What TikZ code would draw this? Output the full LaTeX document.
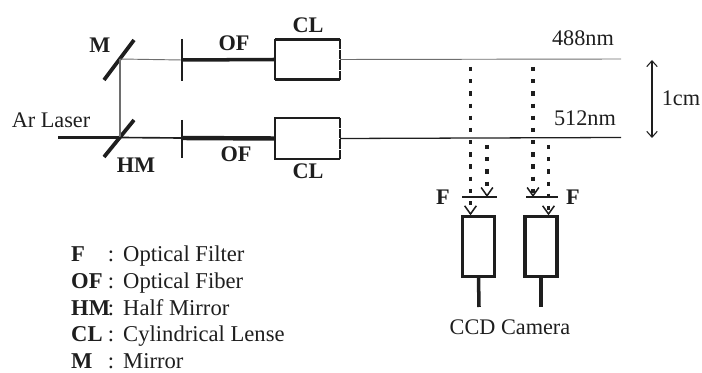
\documentclass[tikz,border=0pt]{standalone}
\usepackage{fontspec}
\setmainfont{Liberation Serif}
\usepackage{xcolor}
\definecolor{ink}{RGB}{30,30,30}
\definecolor{beam_gray}{RGB}{110,110,110}
\usepackage{tikz}
\usetikzlibrary{arrows.meta}
\tikzset{
  label_text/.style={text=ink, font=\fontsize{19}{22}\selectfont, inner sep=0pt},
  key_text/.style={label_text, font=\fontsize{19}{22}\selectfont\bfseries},
  beam/.style={line width=0.8pt, draw=beam_gray},
  strong/.style={line width=3pt, draw=ink},
  medium/.style={line width=2pt, draw=ink},
  dotted_beam/.style={line width=3.2pt, draw=ink, dash pattern=on 3.6pt off 6.8pt,
    -{Straight Barb[line width=1.3pt, length=7pt, width=10pt]}},
  lens_box/.style={minimum width=1.95cm, minimum height=1.2cm, inner sep=0pt},
  camera_box/.style={draw=ink, line width=2.6pt, minimum width=0.96cm, minimum height=1.78cm, inner sep=0pt},
  legend_name/.style={key_text, font=\fontsize{19.3}{22}\selectfont\bfseries, anchor=base west},
  legend_mark/.style={label_text, font=\fontsize{19.3}{22}\selectfont, anchor=base},
  legend_text/.style={label_text, font=\fontsize{19.3}{22}\selectfont, anchor=base west}
}

\begin{document}
\begin{tikzpicture}[x=0.03cm, y=-0.03cm]
\useasboundingbox (0, 0) rectangle (702, 373);

% laser and mirrors
\coordinate (laser_in) at (58, 137.5);
\coordinate (split_low) at (120, 137.5);
\coordinate (split_up) at (120, 59);
\coordinate (fiber_up) at (182, 60);
\coordinate (fiber_low) at (182, 138);
\coordinate (end_up) at (621, 59);
\coordinate (end_low) at (621, 137.5);
\draw [strong, line width=3.2pt] (104, 80) -- (134, 40);
\draw [strong, line width=3.2pt] (104, 157) -- (134, 120);
\draw [line width=2pt, draw=ink] (laser_in) -- (split_low);
\draw [beam, line width=1.1pt] (split_low) -- (split_up);
\draw [beam] (split_up) -- (fiber_up);
\draw [line width=1.4pt, draw=ink] (split_low) -- (fiber_low);

% fibers and lenses
\draw [medium] (182, 39) -- (182, 81);
\draw [medium] (182, 120) -- (182, 158);
\node [lens_box] (lens_up) at (307.5, 59.5) {};
\node [lens_box] (lens_low) at (307.5, 138.5) {};
\draw [strong] (fiber_up) -- (lens_up.west);
\draw [line width=3.8pt, draw=ink] (fiber_low) -- (lens_low.west);
\draw [strong] (lens_up.south east) -- (lens_up.south west);
\draw [strong] (lens_up.north west) -- (lens_up.north east);
\draw [medium] (lens_up.south west) -- (lens_up.north west);
\draw [medium] (lens_low.south east) -- (lens_low.south west) -- (lens_low.north west) -- (lens_low.north east);
\draw [medium, dash pattern=on 8pt off 1pt] (lens_up.north east) -- (lens_up.south east);
\draw [medium, dash pattern=on 8pt off 1pt] (lens_low.north east) -- (lens_low.south east);
\draw [beam] (lens_up.east) -- (end_up);
\draw [line width=1.1pt, draw=ink] (lens_low.east) -- (end_low);

% cameras and filters
\node [camera_box] (camera_a) at (478.5, 246.5) {};
\node [camera_box] (camera_b) at (541, 246.5) {};
\coordinate (stem_a) at (479, 307);
\coordinate (stem_b) at (541, 307);
\draw [strong] (camera_a.south) -- (stem_a);
\draw [strong] (camera_b.south) -- (stem_b);
\draw [medium] (462, 197) -- (497, 197);
\draw [medium] (526, 197) -- (558, 197);

% scattered light
\coordinate (ray_a) at (470.5, 67);
\coordinate (ray_b) at (487, 145);
\coordinate (ray_c) at (533, 67);
\coordinate (ray_d) at (548.5, 145);
\draw [dotted_beam] (ray_a) -- (ray_a |- camera_a.north);
\draw [dotted_beam] (ray_b) -- (487, 197);
\draw [dotted_beam] (ray_c) -- (533, 197);
\draw [dotted_beam] (ray_d) -- (ray_d |- camera_b.north);

% separation
\coordinate (gap_up) at (652, 60);
\coordinate (gap_low) at (652, 138);
\draw [line width=0.9pt, draw=ink, {Straight Barb[length=5pt, width=9pt]}-{Straight Barb[length=5pt, width=9pt]}] (gap_up) -- (gap_low);

% labels
\draw (100, 45) node [key_text] (m_label) {M};
\draw (136, 165) node [key_text] (hm_label) {HM};
\draw (234, 43) node [key_text] (of_up_label) {OF};
\draw (236, 154) node [key_text] (of_low_label) {OF};
\draw (308, 25) node [key_text] (cl_up_label) {CL};
\draw (308, 171) node [key_text] (cl_low_label) {CL};
\draw (443, 197) node [key_text] (f_left_label) {F};
\draw (573, 197) node [key_text] (f_right_label) {F};
\draw (51, 120) node [label_text] (laser_label) {Ar Laser};
\draw (583, 38) node [label_text] (line_up_label) {488nm};
\draw (585, 118) node [label_text] (line_low_label) {512nm};
\draw (681, 98) node [label_text] (gap_label) {1cm};
\draw (510, 327) node [label_text] (camera_label) {CCD Camera};

% legend
\draw (71, 261) node [legend_name] (key_f) {F};
\draw (111, 261) node [legend_mark] (colon_f) {:};
\draw (123, 261) node [legend_text] (text_f) {Optical Filter};
\draw (71, 288) node [legend_name] (key_of) {OF};
\draw (111, 288) node [legend_mark] (colon_of) {:};
\draw (123, 288) node [legend_text] (text_of) {Optical Fiber};
\draw (71, 315) node [legend_name] (key_hm) {HM};
\draw (111, 315) node [legend_mark] (colon_hm) {:};
\draw (123, 315) node [legend_text] (text_hm) {Half Mirror};
\draw (71, 341) node [legend_name] (key_cl) {CL};
\draw (111, 341) node [legend_mark] (colon_cl) {:};
\draw (123, 341) node [legend_text] (text_cl) {Cylindrical Lense};
\draw (71, 368) node [legend_name] (key_m) {M};
\draw (111, 368) node [legend_mark] (colon_m) {:};
\draw (123, 368) node [legend_text] (text_m) {Mirror};

\end{tikzpicture}
\end{document}
